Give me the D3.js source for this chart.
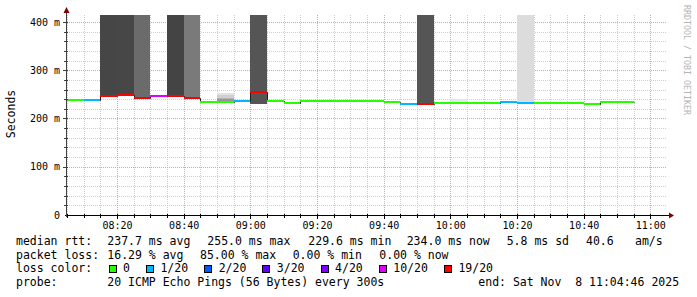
<!DOCTYPE html>
<html>
<head>
<meta charset="utf-8">
<script src="https://cdn.jsdelivr.net/npm/d3@7"></script>
<style>
body { margin: 0; background: #fff; }
svg { display: block; }
text { font-family: "DejaVu Sans Mono", monospace; fill: #000; }
</style>
</head>
<body>
<svg id="chart" width="697" height="297"></svg>
<script>
// one value per 5 minute step, first step starts 08:05
var firstStep = "2025-11-08 08:05";
var medianMs = [238, 238, 246, 249, 243, 246, 246, 242, 235, 233.5, 236, 255, 236, 231.5,
                236, 236, 236, 236, 236, 235, 229.6, 230, 231.5, 231.5, 233, 232, 234.5, 232,
                233, 233, 231.5, 229.8, 235, 233.5];
var lostPings = [0, 1, 15, 17, 12, 8, 15, 12, 0, 0, 1, 14, 0, 0,
                 0, 0, 0, 0, 0, 0, 1, 13, 0, 0, 0, 0, 1, 1,
                 0, 0, 0, 0, 0, 0];

// smoke bands (step index, low/high ping in ms, density 0..1)
var smokeStep    = [2, 3, 4, 6, 7, 9, 9, 9, 9, 11, 21, 23, 27];
var smokeLoMs    = [246, 249, 243, 246, 242, 248, 243, 239.8, 235.6, 230, 230, 234, 233];
var smokeHiMs    = [450, 450, 450, 450, 450, 253, 248, 243, 239.8, 450, 450, 240, 450];
var smokeDensity = [0.725, 0.72, 0.58, 0.733, 0.52, 0.11, 0.19, 0.29, 0.41, 0.667, 0.667, 0.1, 0.137];

// loss colour classes
var lossLevels = [0, 1, 2, 3, 4, 10, 19];
var lossLabels = ["0", "1/20", "2/20", "3/20", "4/20", "10/20", "19/20"];
var lossColors = ["#26ff00", "#00b8ff", "#0059ff", "#5e00ff", "#7e00ff", "#dd00ff", "#ff0000"];

var yTicks = [0, 100, 200, 300, 400];
var yTickLabels = ["0", "100 m", "200 m", "300 m", "400 m"];

var rttLine  = ["median rtt:", "237.7 ms avg", "255.0 ms max", "229.6 ms min", "234.0 ms now", "5.8 ms sd", "40.6", "am/s"];
var lossLine = ["packet loss:", "16.29 % avg", "85.00 % max", "0.00 % min", "0.00 % now"];
var probeLine = ["probe:", "20 ICMP Echo Pings (56 Bytes) every 300s", "end: Sat Nov  8 11:04:46 2025"];

var svg = d3.select("#chart");
var parse = d3.timeParse("%Y-%m-%d %H:%M");
var start = parse(firstStep);
var tStart = parse("2025-11-08 08:05"), tEnd = parse("2025-11-08 11:05");

var pLeft = 67, pRight = 667, pTop = 15, pBottom = 215;
var x = d3.scaleTime().domain([tStart, tEnd]).range([pLeft, pRight]);
var y = d3.scaleLinear().domain([0, 414.5]).range([pBottom, pTop]);

var steps = medianMs.map(function(m, i){
    return {a: d3.timeMinute.offset(start, i*5), b: d3.timeMinute.offset(start, i*5 + 5), m: m, loss: lostPings[i]};
});
function lossColor(l){
    var k = lossLevels.findIndex(function(v){ return l <= v; });
    return lossColors[k];
}

svg.append("defs").append("clipPath").attr("id", "plot")
   .append("rect").attr("x", pLeft).attr("y", pTop).attr("width", pRight - pLeft).attr("height", pBottom - pTop);

// grid
var grid = svg.append("g").attr("shape-rendering", "crispEdges").attr("stroke-dasharray", "1,1");
var minorY = d3.range(20, 401, 20).filter(function(v){ return v % 100 != 0; });
var majorY = d3.range(100, 401, 100);
var minorX = d3.timeMinute.every(5).range(tStart, tEnd).filter(function(d){ return d.getMinutes() % 20 != 0; });
var majorX = d3.timeMinute.every(20).range(tStart, tEnd);

grid.selectAll(".hmin").data(minorY).enter().append("line")
    .attr("x1", pLeft).attr("x2", pRight)
    .attr("y1", function(d){ return Math.round(y(d)) + 0.5; }).attr("y2", function(d){ return Math.round(y(d)) + 0.5; })
    .attr("stroke", "#cfcfcf");
grid.selectAll(".vmin").data(minorX).enter().append("line")
    .attr("y1", pTop).attr("y2", pBottom)
    .attr("x1", function(d){ return Math.round(x(d)) + 0.5; }).attr("x2", function(d){ return Math.round(x(d)) + 0.5; })
    .attr("stroke", "#cfcfcf");
grid.selectAll(".hmaj").data(majorY).enter().append("line")
    .attr("x1", pLeft).attr("x2", pRight)
    .attr("y1", function(d){ return Math.round(y(d)) + 0.5; }).attr("y2", function(d){ return Math.round(y(d)) + 0.5; })
    .attr("stroke", "#e4a0a0");
grid.selectAll(".vmaj").data(majorX).enter().append("line")
    .attr("y1", pTop).attr("y2", pBottom)
    .attr("x1", function(d){ return Math.round(x(d)) + 0.5; }).attr("x2", function(d){ return Math.round(x(d)) + 0.5; })
    .attr("stroke", "#e4a0a0");

// smoke
var plot = svg.append("g").attr("clip-path", "url(#plot)");
plot.selectAll(".smoke").data(smokeStep).enter().append("rect")
    .attr("shape-rendering", "crispEdges")
    .attr("x", function(s){ return x(steps[s].a); })
    .attr("width", function(s){ return x(steps[s].b) - x(steps[s].a); })
    .attr("y", function(s, i){ return y(smokeHiMs[i]); })
    .attr("height", function(s, i){ return y(smokeLoMs[i]) - y(smokeHiMs[i]); })
    .attr("fill", function(s, i){ var g = Math.round(255 * (1 - smokeDensity[i])); return d3.rgb(g, g, g); });

// median step line underneath, then loss coloured segments
var pts = steps.map(function(d){ return [d.a, d.m]; });
pts.push([steps[steps.length-1].b, steps[steps.length-1].m]);
plot.append("path")
    .attr("d", d3.line().curve(d3.curveStepAfter).x(function(d){ return Math.round(x(d[0])) + 0.5; }).y(function(d){ return Math.round(y(d[1])) + 0.5; })(pts))
    .attr("fill", "none").attr("stroke", "#202020").attr("stroke-width", 1);
plot.selectAll(".med").data(steps).enter().append("line")
    .attr("x1", function(d){ return Math.round(x(d.a)); }).attr("x2", function(d){ return Math.round(x(d.b)); })
    .attr("y1", function(d){ return Math.round(y(d.m)); }).attr("y2", function(d){ return Math.round(y(d.m)); })
    .attr("stroke", function(d){ return lossColor(d.loss); }).attr("stroke-width", 2)
    .attr("shape-rendering", "crispEdges");

// axes lines, ticks and arrows
var ax = svg.append("g").attr("shape-rendering", "crispEdges");
ax.append("line").attr("x1", pLeft - 2).attr("x2", pRight + 3).attr("y1", pBottom + 0.5).attr("y2", pBottom + 0.5).attr("stroke", "#000");
ax.append("line").attr("x1", pLeft - 0.5).attr("x2", pLeft - 0.5).attr("y1", pBottom + 2).attr("y2", pTop - 3).attr("stroke", "#404040");
ax.selectAll(".xt").data(minorX.concat(majorX)).enter().append("line")
    .attr("x1", function(d){ return Math.round(x(d)) + 0.5; }).attr("x2", function(d){ return Math.round(x(d)) + 0.5; })
    .attr("y1", pBottom - 1).attr("y2", function(d){ return d.getMinutes() % 20 == 0 ? pBottom + 4 : pBottom + 3; })
    .attr("stroke", "#000");
ax.selectAll(".yt").data(minorY.concat(majorY)).enter().append("line")
    .attr("y1", function(d){ return Math.round(y(d)) + 0.5; }).attr("y2", function(d){ return Math.round(y(d)) + 0.5; })
    .attr("x1", function(d){ return d % 100 == 0 ? pLeft - 4 : pLeft - 3; }).attr("x2", pLeft + 1)
    .attr("stroke", "#404040");
svg.append("path").attr("d", `M${pLeft-3.5},${pTop-2} L${pLeft+2.5},${pTop-2} L${pLeft-0.5},${pTop-8} Z`).attr("fill", "#7f0000");
svg.append("path").attr("d", `M${pRight+2},${pBottom-2.5} L${pRight+2},${pBottom+3.5} L${pRight+7},${pBottom+0.5} Z`).attr("fill", "#7f0000");

// tick labels
var yAxis = svg.append("g").attr("transform", `translate(${pLeft},0)`)
    .call(d3.axisLeft(y).tickValues(yTicks).tickSize(0).tickPadding(7)
        .tickFormat(function(d, i){ return yTickLabels[i]; }));
var xAxis = svg.append("g").attr("transform", `translate(0,${pBottom})`)
    .call(d3.axisBottom(x).tickValues(majorX.filter(function(d){ return d > tStart; })).tickSize(0).tickPadding(7)
        .tickFormat(d3.timeFormat("%H:%M")));
[yAxis, xAxis].forEach(function(g){
    g.select(".domain").remove();
    g.selectAll("text").style("font-family", "'DejaVu Sans Mono', monospace").style("font-size", "10px").attr("fill", "#000");
});

svg.append("text").attr("transform", "translate(11,114) rotate(-90)")
    .attr("text-anchor", "middle").attr("dy", "0.35em")
    .style("font-size", "11.5px").text("Seconds");
svg.append("text").attr("transform", "translate(684,60) rotate(90)")
    .attr("text-anchor", "middle")
    .style("font-size", "8.3px").style("fill", "#b4b4b4")
    .text("RRDTOOL / TOBI OETIKER");

// legend
var legend = svg.append("g").style("font-size", "11.5px");
var rttX = [16, 107.3, 207.3, 308.3, 406.7, 506.7, 586, 635];
var lossX = [16, 107.3, 200, 292.7, 379.3];
var probeX = [16, 107.3, 478.3];
function row(items, xs, base){
    legend.selectAll(null).data(items).enter().append("text")
        .attr("x", function(d, i){ return xs[i]; }).attr("y", base)
        .style("white-space", "pre").text(function(d){ return d; });
}
row(rttLine, rttX, 245);
row(lossLine, lossX, 258.7);
row(probeLine, probeX, 286);
legend.append("text").attr("x", 16).attr("y", 272.4).text("loss color:");
var cx = 108.5;
lossLabels.forEach(function(l, i){
    legend.append("rect").attr("x", cx + 0.5).attr("y", 265.5).attr("width", 7).attr("height", 7)
        .attr("fill", lossColors[i]).attr("stroke", "#000").attr("shape-rendering", "crispEdges");
    var t = legend.append("text").attr("x", cx + 14.5).attr("y", 272.4).text(l);
    cx = cx + 14.5 + t.node().getComputedTextLength() + 16;
});
</script>
</body>
</html>
